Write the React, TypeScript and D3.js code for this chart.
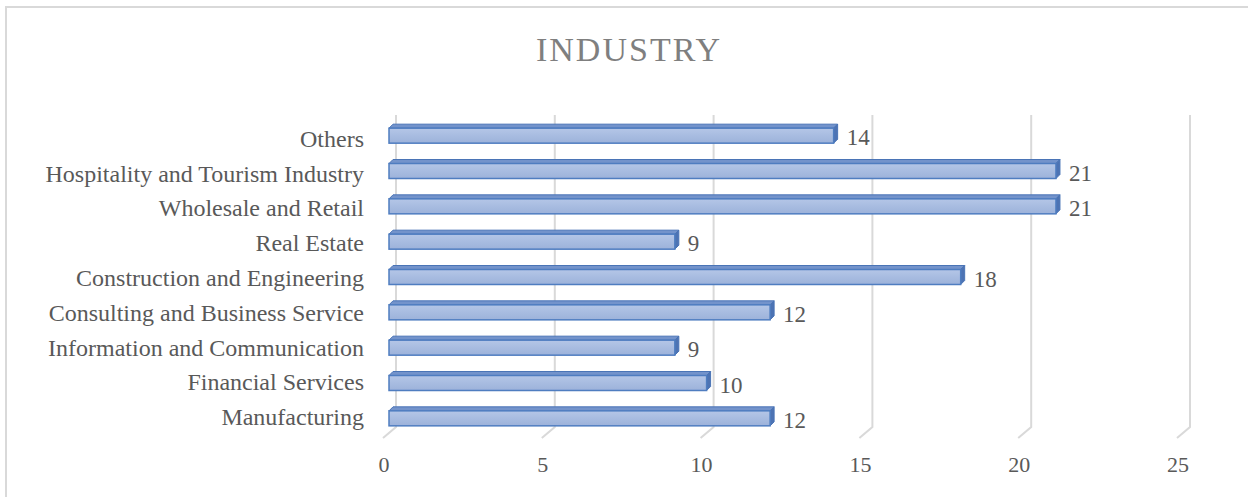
import React, { useRef, useEffect } from 'react';
import * as d3 from 'd3';

const categories = [
  'Others',
  'Hospitality and Tourism Industry',
  'Wholesale and Retail',
  'Real Estate',
  'Construction and Engineering',
  'Consulting and Business Service',
  'Information and Communication',
  'Financial Services',
  'Manufacturing',
];
const values = [14, 21, 21, 9, 18, 12, 9, 10, 12];
const xTicks = [0, 5, 10, 15, 20, 25];

const W = 1248;
const H = 497;
const FONT = '"Liberation Serif", "Times New Roman", serif';

const App = () => {
  const svgRef = useRef<SVGSVGElement>(null);

  useEffect(() => {
    document.body.style.margin = '0';
    const svg = d3.select(svgRef.current);
    svg.selectAll('*').remove();

    const x = d3.scaleLinear().domain([0, 25]).range([389, 1183]);
    const y = d3.scaleBand().domain(categories).range([118, 436]);
    // axis labels sit on the 3D floor, so their pitch is a little tighter
    const yLabel = d3.scaleBand().domain(categories).range([121.6, 434.4]);
    const barH = 15;
    const dx = 4;
    const dy = 4;
    const backDx = 7;
    const frontDx = -6;
    const gridTop = 115;
    const gridBack = 427;
    const gridFront = 438;

    const defs = svg.append('defs');
    const grad = defs.append('linearGradient')
      .attr('id', 'barFace')
      .attr('x1', 0).attr('y1', 0).attr('x2', 0).attr('y2', 1);
    grad.append('stop').attr('offset', '0%').attr('stop-color', '#b4c6e7');
    grad.append('stop').attr('offset', '100%').attr('stop-color', '#9cb2da');

    svg.append('rect')
      .attr('x', 0).attr('y', 0).attr('width', W).attr('height', H)
      .style('fill', 'white');

    svg.append('rect')
      .attr('x', 6).attr('y', 7).attr('width', W + 20).attr('height', H + 20)
      .style('fill', 'none')
      .style('stroke', '#d9d9d9')
      .style('stroke-width', 2);

    svg.append('text')
      .attr('x', 629).attr('y', 61)
      .attr('text-anchor', 'middle')
      .style('font-family', FONT)
      .style('font-size', '34px')
      .style('letter-spacing', '2px')
      .style('fill', '#7f7f7f')
      .text('INDUSTRY');

    // grid lines with 3D floor slant
    svg.append('g').selectAll('path')
      .data(xTicks)
      .enter()
      .append('path')
      .attr('d', d => `M${x(d) + backDx},${gridTop}L${x(d) + backDx},${gridBack}L${x(d) + frontDx},${gridFront}`)
      .style('fill', 'none')
      .style('stroke', '#d9d9d9')
      .style('stroke-width', 2);

    svg.append('g').selectAll('text')
      .data(xTicks)
      .enter()
      .append('text')
      .attr('x', d => x(d) + frontDx + 1)
      .attr('y', 472)
      .attr('text-anchor', 'middle')
      .style('font-family', FONT)
      .style('font-size', '22px')
      .style('fill', '#595959')
      .text(d => d);

    // category labels
    svg.append('g').selectAll('text')
      .data(categories)
      .enter()
      .append('text')
      .attr('x', 364)
      .attr('y', d => (yLabel(d) as number) + yLabel.bandwidth() / 2 + 8)
      .attr('text-anchor', 'end')
      .style('font-family', FONT)
      .style('font-size', '24px')
      .style('fill', '#595959')
      .text(d => d);

    const bars = svg.append('g').selectAll('g')
      .data(categories.map((c, i) => ({ c, v: values[i] })))
      .enter()
      .append('g');

    const top = (d: { c: string }) => (y(d.c) as number) + y.bandwidth() / 2 - barH / 2;

    bars.append('path')
      .attr('d', d => {
        const t = top(d);
        return `M${x(0)},${t}L${x(d.v)},${t}L${x(d.v) + dx},${t - dy}L${x(0) + dx},${t - dy}Z`;
      })
      .style('fill', '#7393cb')
      .style('stroke', '#4a74b6')
      .style('stroke-width', 1);

    bars.append('path')
      .attr('d', d => {
        const t = top(d);
        const xe = x(d.v);
        return `M${xe},${t}L${xe + dx},${t - dy}L${xe + dx},${t + barH - dy}L${xe},${t + barH}Z`;
      })
      .style('fill', '#4d73b3')
      .style('stroke', '#4a74b6')
      .style('stroke-width', 1);

    bars.append('rect')
      .attr('x', x(0))
      .attr('y', d => top(d))
      .attr('width', d => x(d.v) - x(0))
      .attr('height', barH)
      .style('fill', 'url(#barFace)')
      .style('stroke', '#4f7dc0')
      .style('stroke-width', 1.5);

    bars.append('text')
      .attr('x', d => x(d.v) + 13)
      .attr('y', d => top(d) + barH / 2 + 9.5)
      .style('font-family', FONT)
      .style('font-size', '23px')
      .style('fill', '#595959')
      .text(d => d.v);
  }, []);

  return <svg ref={svgRef} width={W} height={H} style={{ display: 'block' }}></svg>;
};

export default App;
